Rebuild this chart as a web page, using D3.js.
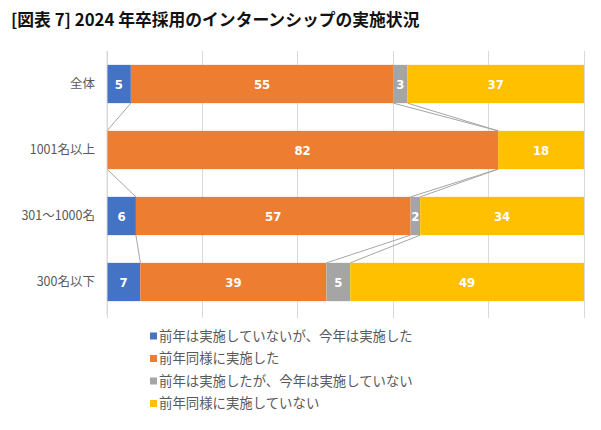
<!DOCTYPE html>
<html><head><meta charset="utf-8">
<script src="https://cdn.jsdelivr.net/npm/d3@7"></script>
<style>body{margin:0;background:#fff}</style>
</head><body>
<script>
const categories = ["全体", "1001名以上", "301～1000名", "300名以下"];
const seriesNames = ["前年は実施していないが、今年は実施した", "前年同様に実施した", "前年は実施したが、今年は実施していない", "前年同様に実施していない"];
const s1 = [5, 0, 6, 7];
const s2 = [55, 82, 57, 39];
const s3 = [3, 0, 2, 5];
const s4 = [37, 18, 34, 49];
const colors = ["#4472C4", "#ED7D31", "#A5A5A5", "#FFC000"];
const xTicks = [0, 0.2, 0.4, 0.6, 0.8, 1];
const title = "[図表 7] 2024 年卒採用のインターンシップの実施状況";

const W = 601, H = 430;
const svg = d3.select("body").append("svg").attr("width", W).attr("height", H);
svg.append("rect").attr("width", W).attr("height", H).attr("fill", "#fff");

svg.append("text").attr("x", 11).attr("y", 26).text(title)
  .attr("font-family", "'Noto Sans CJK JP'").attr("font-weight", "bold")
  .attr("font-size", 16.8).attr("fill", "#111");

const x = d3.scaleLinear().domain([0, 1]).range([107, 584]);
const y = d3.scaleBand().domain(categories).range([51, 315]).paddingInner(0.42).paddingOuter(0.21);

// gridlines
svg.append("g").selectAll("line").data(xTicks).join("line")
  .attr("x1", d => x(d)).attr("x2", d => x(d))
  .attr("y1", 51).attr("y2", 318)
  .attr("stroke", "#D9D9D9").attr("stroke-width", 1).attr("shape-rendering", "crispEdges");

const series = [s1, s2, s3, s4];
const stackData = categories.map((c, i) => {
  const o = {cat: c};
  series.forEach((s, k) => o["k" + k] = s[i]);
  return o;
});
const stacked = d3.stack().keys(["k0", "k1", "k2", "k3"]).offset(d3.stackOffsetExpand)(stackData);

// series lines
const lineG = svg.append("g");
stacked.forEach((layer, k) => {
  if (k === 3) return;
  for (let i = 0; i < categories.length - 1; i++) {
    lineG.append("line")
      .attr("x1", x(layer[i][1])).attr("y1", y(categories[i]) + y.bandwidth())
      .attr("x2", x(layer[i + 1][1])).attr("y2", y(categories[i + 1]))
      .attr("stroke", "#A6A6A6").attr("stroke-width", 1);
  }
});

const barG = svg.append("g");
stacked.forEach((layer, k) => {
  const key = layer.key;
  barG.append("g").selectAll("rect").data(layer).join("rect")
    .attr("x", d => x(d[0])).attr("width", d => x(d[1]) - x(d[0]))
    .attr("y", (d, i) => y(categories[i])).attr("height", y.bandwidth())
    .attr("fill", colors[k]);
  barG.append("g").selectAll("text").data(layer.filter(d => d.data[key] > 0)).join("text")
    .attr("x", d => (x(d[0]) + x(d[1])) / 2)
    .attr("y", d => y(d.data.cat) + y.bandwidth() / 2 + 4.5)
    .attr("text-anchor", "middle")
    .attr("font-family", "'Liberation Sans Narrow', 'DejaVu Sans Condensed', sans-serif")
    .attr("font-weight", "bold").attr("font-size", 13).attr("fill", "#fff")
    .text(d => d.data[key]);
});

// axis
const yAxis = d3.axisLeft(y).tickSize(0).tickPadding(12);
const ag = svg.append("g").attr("transform", "translate(107,0)").call(yAxis);
ag.select(".domain").attr("stroke", "#D9D9D9").attr("d", "M0,51V315");
ag.selectAll("text").attr("font-family", "'Noto Sans CJK JP'").attr("font-size", 12.5).attr("fill", "#595959");

// legend
const lg = svg.append("g");
seriesNames.forEach((n, i) => {
  const yy = 336 + i * 22.5;
  lg.append("rect").attr("x", 150).attr("y", yy - 3.5).attr("width", 7).attr("height", 7).attr("fill", colors[i]);
  lg.append("text").attr("x", 159).attr("y", yy + 4.8).text(n)
    .attr("font-family", "'Noto Sans CJK JP'").attr("font-size", 13.4).attr("fill", "#595959");
});
</script>
</body></html>
